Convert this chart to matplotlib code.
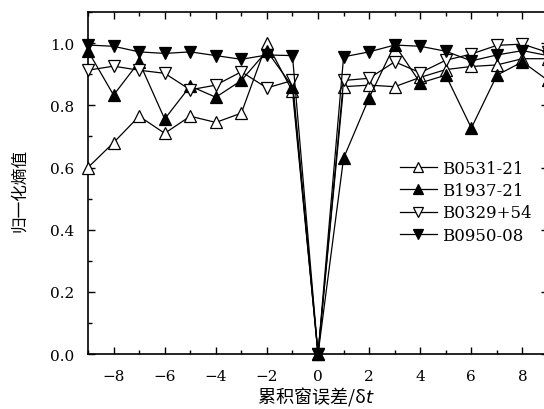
import matplotlib
matplotlib.use("Agg")
import matplotlib.pyplot as plt
from matplotlib.ticker import MultipleLocator, FormatStrFormatter

lags = list(range(-9, 10))

# normalised entropy values
b0531 = [0.60, 0.68, 0.765, 0.71, 0.765, 0.745, 0.775, 1.00, 0.845, 0.0,
         0.86, 0.865, 0.86, 0.89, 0.915, 0.925, 0.93, 0.95, 0.95]
b1937 = [0.975, 0.833, 0.94, 0.756, 0.862, 0.826, 0.88, 0.975, 0.86, 0.0,
         0.63, 0.824, 0.995, 0.872, 0.897, 0.727, 0.897, 0.94, 0.88]
b0329 = [0.913, 0.926, 0.913, 0.903, 0.85, 0.865, 0.908, 0.856, 0.88, 0.0,
         0.88, 0.887, 0.94, 0.905, 0.945, 0.965, 0.993, 0.997, 0.97]
b0950 = [0.994, 0.99, 0.972, 0.967, 0.972, 0.96, 0.948, 0.962, 0.96, 0.0,
         0.956, 0.972, 0.994, 0.99, 0.974, 0.943, 0.962, 0.976, 0.96]

names = ["B0531-21", "B1937-21", "B0329+54", "B0950-08"]
series = [b0531, b1937, b0329, b0950]
markers = ["^", "^", "v", "v"]
faces = ["white", "black", "white", "black"]

num_font = "DejaVu Serif"
cjk = ["Noto Sans CJK SC", "DejaVu Sans"]

fig = plt.figure(figsize=(5.44, 4.10), dpi=100)
ax = fig.add_axes([0.1618, 0.1341, 0.8456, 0.834])

for name, vals, m, fc in zip(names, series, markers, faces):
    ax.plot(lags, vals, color="black", lw=0.9, marker=m, markersize=8.5,
            markerfacecolor=fc, markeredgecolor="black", markeredgewidth=0.9,
            label=name, clip_on=False, zorder=3)

ax.set_xlim(-9, 9)
ax.set_ylim(0, 1.1)
ax.xaxis.set_major_locator(MultipleLocator(2))
ax.xaxis.set_minor_locator(MultipleLocator(1))
ax.yaxis.set_major_locator(MultipleLocator(0.2))
ax.yaxis.set_minor_locator(MultipleLocator(0.1))
ax.yaxis.set_major_formatter(FormatStrFormatter("%.1f"))
ax.tick_params(which="both", direction="in", top=True, right=True, width=1.0)
ax.tick_params(which="major", length=5, labelsize=11)
ax.tick_params(which="minor", length=3)
ax.tick_params(axis="x", which="major", pad=11)
ax.tick_params(axis="y", which="major", pad=10)
for lab in ax.get_xticklabels() + ax.get_yticklabels():
    lab.set_fontfamily(num_font)
for sp in ax.spines.values():
    sp.set_linewidth(1.2)

ax.set_xlabel("累积窗误差/δ$t$", family=cjk, fontsize=13)
ax.set_ylabel("归一化熵值", family=cjk, fontsize=12)
ax.xaxis.set_label_coords(0.496, -0.088)
ax.yaxis.set_label_coords(-0.13, 0.48)

leg = ax.legend(loc="upper left", bbox_to_anchor=(0.678, 0.567), frameon=False,
                handlelength=2.2, handletextpad=0.3, labelspacing=0.31,
                borderaxespad=0, borderpad=0,
                prop={"family": num_font, "size": 12})
for h in leg.legend_handles:
    h.set_markersize(6.5)

fig.savefig("out.png", dpi=100)
